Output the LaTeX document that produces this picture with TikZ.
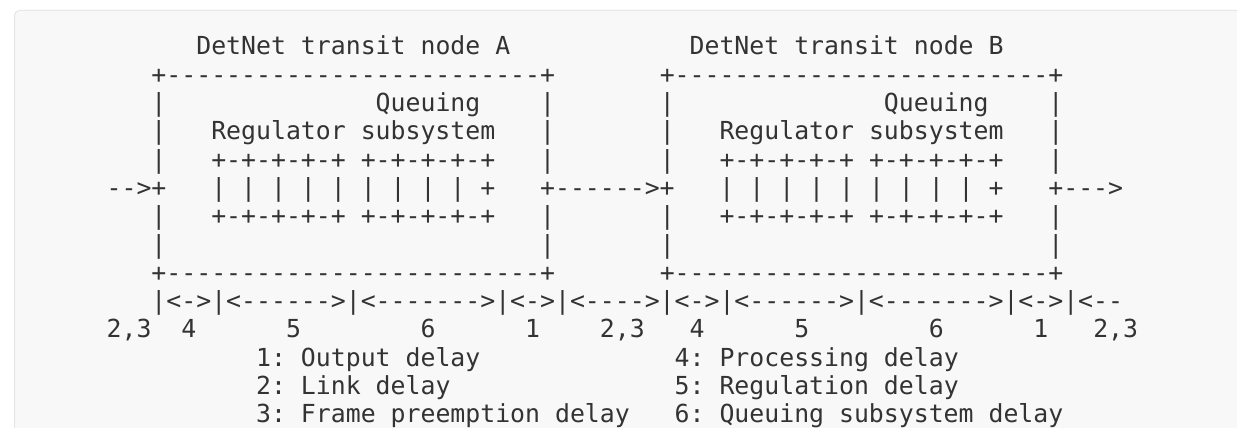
\documentclass[tikz,border=0pt]{standalone}
\usepackage{fontspec}
\setmonofont{DejaVu Sans Mono}
\definecolor{bgc}{HTML}{F8F8F8}
\definecolor{bdc}{HTML}{E6E6E6}
\definecolor{txc}{HTML}{333333}
\newcommand\gap[1]{\hspace*{\dimexpr #1\fontcharwd\font`0\relax}}
\begin{document}
\begin{tikzpicture}[x=1pt,y=1pt,
  ascii/.style={anchor=base west, inner sep=0pt, outer sep=0pt, text=txc,
    font=\ttfamily\fontsize{24.83pt}{28pt}\selectfont\frenchspacing}]
\useasboundingbox (0,0) rectangle (1237,428);
\fill[white] (0,0) rectangle (1237,428);
\draw[bdc, fill=bgc, rounded corners=5pt, line width=1pt] (14.5,-20) rectangle (1260,417.5);
\def\X{61.8}
\node[ascii] (r0) at (\X,{373-28.3*0}) {\gap{9}DetNet transit node A\gap{12}DetNet transit node B};
\node[ascii] (r1) at (\X,{373-28.3*1}) {\gap{6}+-------------------------+\gap{7}+-------------------------+};
\node[ascii] (r2) at (\X,{373-28.3*2}) {\gap{6}|\gap{14}Queuing\gap{4}|\gap{7}|\gap{14}Queuing\gap{4}|};
\node[ascii] (r3) at (\X,{373-28.3*3}) {\gap{6}|\gap{3}Regulator subsystem\gap{3}|\gap{7}|\gap{3}Regulator subsystem\gap{3}|};
\node[ascii] (r4) at (\X,{373-28.3*4}) {\gap{6}|\gap{3}+-+-+-+-+ +-+-+-+-+\gap{3}|\gap{7}|\gap{3}+-+-+-+-+ +-+-+-+-+\gap{3}|};
\node[ascii] (r5) at (\X,{373-28.3*5}) {\gap{3}-->+\gap{3}| | | | | | | | | +\gap{3}+------>+\gap{3}| | | | | | | | | +\gap{3}+--->};
\node[ascii] (r6) at (\X,{373-28.3*6}) {\gap{6}|\gap{3}+-+-+-+-+ +-+-+-+-+\gap{3}|\gap{7}|\gap{3}+-+-+-+-+ +-+-+-+-+\gap{3}|};
\node[ascii] (r7) at (\X,{373-28.3*7}) {\gap{6}|\gap{25}|\gap{7}|\gap{25}|};
\node[ascii] (r8) at (\X,{373-28.3*8}) {\gap{6}+-------------------------+\gap{7}+-------------------------+};
\node[ascii] (r9) at (\X,{373-28.3*9}) {\gap{6}|<->|<------>|<------->|<->|<---->|<->|<------>|<------->|<->|<--};
\node[ascii] (r10) at (\X,{373-28.3*10}) {\gap{3}2,3\gap{2}4\gap{6}5\gap{8}6\gap{6}1\gap{4}2,3\gap{3}4\gap{6}5\gap{8}6\gap{6}1\gap{3}2,3};
\node[ascii] (r11) at (\X,{373-28.3*11}) {\gap{13}1: Output delay\gap{13}4: Processing delay};
\node[ascii] (r12) at (\X,{373-28.3*12}) {\gap{13}2: Link delay\gap{15}5: Regulation delay};
\node[ascii] (r13) at (\X,{373-28.3*13}) {\gap{13}3: Frame preemption delay\gap{3}6: Queuing subsystem delay};
\end{tikzpicture}
\end{document}
